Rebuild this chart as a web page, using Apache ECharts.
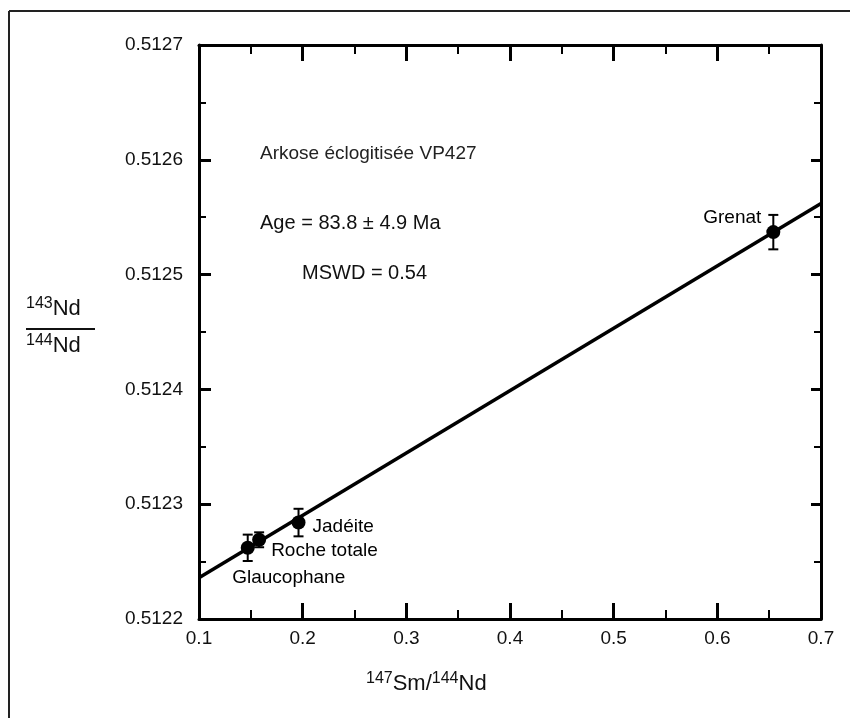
<!DOCTYPE html>
<html>
<head>
<meta charset="utf-8">
<script src="https://cdn.jsdelivr.net/npm/echarts@6/dist/echarts.min.js"></script>
<style>
    html, body { margin: 0; padding: 0; background: #fff; }
    #main { width: 850px; height: 718px; }
</style>
</head>
<body>
<div id="main"></div>
<script>
    // points (147Sm/144Nd, 143Nd/144Nd, 2 sigma)
    var names = ['Glaucophane', 'Roche totale', 'Jadéite', 'Grenat'];
    var smNd = [0.147, 0.158, 0.196, 0.654];
    var ndNd = [0.512262, 0.512269, 0.512284, 0.512537];
    var errs = [0.0000115, 0.0000065, 0.000012, 0.000015];

    // isochron, read at both ends of the plot
    var isoX = [0.1, 0.7];
    var isoY = [0.512236, 0.512562];

    var notes = ['Arkose éclogitisée VP427', 'Age = 83.8 ± 4.9 Ma', 'MSWD = 0.54'];

    var FONT = 'Liberation Sans, Arial, sans-serif';

    // where each point label sits
    var labelPos = {
        'Glaucophane': { position: 'bottom', offset: [41, 8] },
        'Roche totale': { position: 'right', offset: [0, 11] },
        'Jadéite': { position: 'right', offset: [2, 4] },
        'Grenat': { position: 'left', offset: [0, -14] }
    };

    var points = [], bars = [];
    for (var i = 0; i < names.length; i++) {
        points.push({
            name: names[i],
            value: [smNd[i], ndNd[i]],
            label: {
                show: true,
                formatter: '{b}',
                position: labelPos[names[i]].position,
                offset: labelPos[names[i]].offset,
                color: '#000',
                opacity: 1,
                fontSize: 19,
                fontFamily: FONT
            }
        });
        bars.push([smNd[i], ndNd[i], errs[i]]);
    }

    var isoLine = [];
    for (var j = 0; j < isoX.length; j++) isoLine.push([isoX[j], isoY[j]]);

    var axisStyle = { lineStyle: { color: '#000', width: 3 } };

    function xAx(pos, labels) {
        return {
            type: 'value', position: pos, min: 0.1, max: 0.7, interval: 0.1,
            axisLine: axisStyle,
            axisTick: { inside: true, length: 16, lineStyle: { color: '#000', width: 3 } },
            minorTick: { show: true, splitNumber: 2, length: 9, lineStyle: { color: '#000', width: 2 } },
            axisLabel: {
                show: labels, margin: 10, color: '#111', fontSize: 19, fontFamily: FONT,
                formatter: function (v) { return v.toFixed(1); }
            },
            splitLine: { show: false }
        };
    }

    function yAx(pos, labels) {
        return {
            type: 'value', position: pos, min: 0.5122, max: 0.5127, interval: 0.0001,
            axisLine: axisStyle,
            axisTick: { inside: true, length: labels ? 12 : 10, lineStyle: { color: '#000', width: 3 } },
            minorTick: { show: true, splitNumber: 2, length: 7, lineStyle: { color: '#000', width: 2 } },
            axisLabel: {
                show: labels, margin: 16, color: '#111', fontSize: 19, fontFamily: FONT,
                formatter: function (v) { return v.toFixed(4); }
            },
            splitLine: { show: false }
        };
    }

    var sup = { fontSize: 16, fontFamily: FONT, verticalAlign: 'top', lineHeight: 26, fill: '#111' };
    var big = { fontSize: 22, fontFamily: FONT, lineHeight: 26, fill: '#111' };

    var option = {
        animation: false,
        backgroundColor: '#fff',
        grid: { left: 199, right: 29, top: 45, bottom: 99 },
        xAxis: [xAx('bottom', true), xAx('top', false)],
        yAxis: [yAx('left', true), yAx('right', false)],
        graphic: [
            // frame of the scanned figure
            { type: 'line', shape: { x1: 9, y1: 11, x2: 850, y2: 11 }, style: { stroke: '#222', lineWidth: 2 } },
            { type: 'line', shape: { x1: 9, y1: 11, x2: 9, y2: 718 }, style: { stroke: '#222', lineWidth: 2 } },
            // axis titles
            { type: 'text', x: 26, y: 296, style: { text: '{s|143}{n|Nd}', rich: { s: sup, n: big } } },
            { type: 'line', shape: { x1: 26, y1: 329, x2: 95, y2: 329 }, style: { stroke: '#111', lineWidth: 2 } },
            { type: 'text', x: 26, y: 333, style: { text: '{s|144}{n|Nd}', rich: { s: sup, n: big } } },
            { type: 'text', x: 366, y: 671, style: { text: '{s|147}{n|Sm/}{s|144}{n|Nd}', rich: { s: sup, n: big } } },
            // notes
            { type: 'text', x: 260, y: 154, style: { text: notes[0], fill: '#222', fontSize: 19, fontFamily: FONT, verticalAlign: 'middle' } },
            { type: 'text', x: 260, y: 223, style: { text: notes[1], fill: '#111', fontSize: 20, fontFamily: FONT, verticalAlign: 'middle' } },
            { type: 'text', x: 302, y: 273, style: { text: notes[2], fill: '#111', fontSize: 20, fontFamily: FONT, verticalAlign: 'middle' } }
        ],
        series: [
            {
                type: 'line',
                data: isoLine,
                symbol: 'none',
                lineStyle: { color: '#000', width: 3.5 },
                z: 2
            },
            {
                type: 'custom',
                data: bars,
                renderItem: function (params, api) {
                    var x = api.value(0), y = api.value(1), e = api.value(2);
                    var top = api.coord([x, y + e]);
                    var bot = api.coord([x, y - e]);
                    var st = { stroke: '#000', lineWidth: 2 };
                    return {
                        type: 'group',
                        children: [
                            { type: 'line', shape: { x1: top[0], y1: top[1], x2: bot[0], y2: bot[1] }, style: st },
                            { type: 'line', shape: { x1: top[0] - 5, y1: top[1], x2: top[0] + 5, y2: top[1] }, style: st },
                            { type: 'line', shape: { x1: bot[0] - 5, y1: bot[1], x2: bot[0] + 5, y2: bot[1] }, style: st }
                        ]
                    };
                },
                z: 3
            },
            {
                type: 'scatter',
                data: points,
                symbol: 'circle',
                symbolSize: 14,
                itemStyle: { color: '#000', opacity: 1 },
                z: 4
            }
        ]
    };

    var myChart = echarts.init(document.getElementById('main'));
    myChart.setOption(option);
</script>
</body>
</html>
